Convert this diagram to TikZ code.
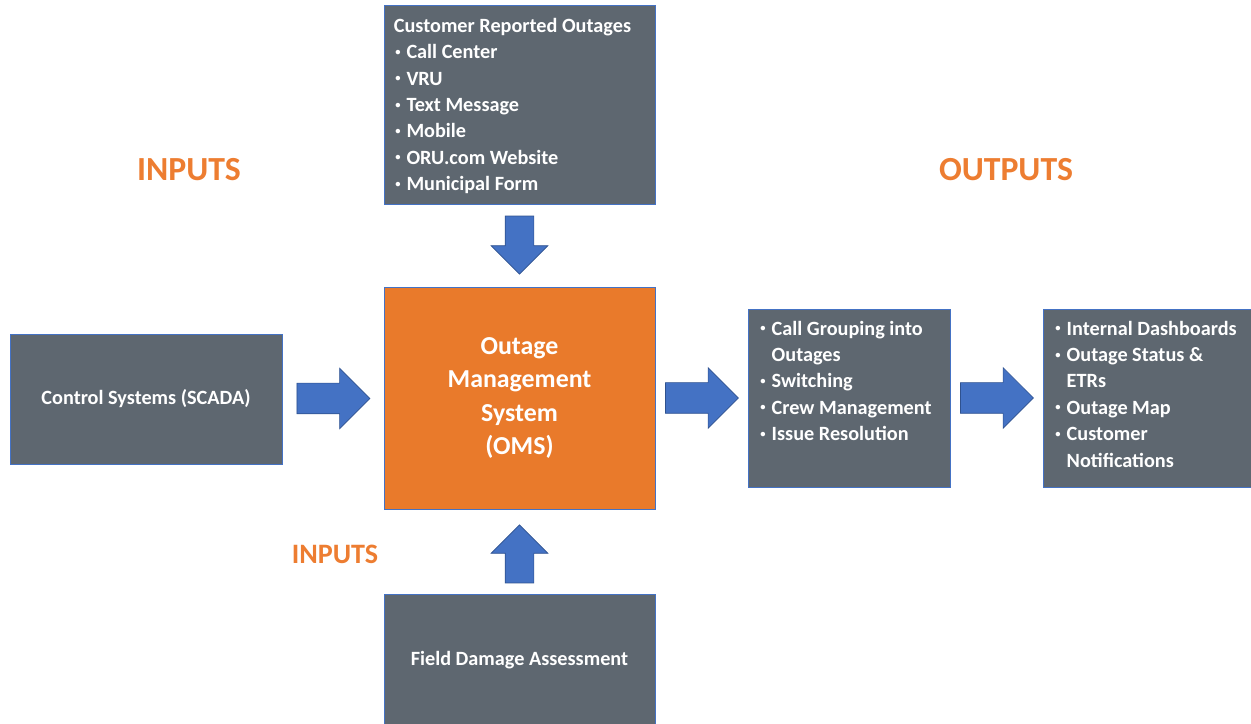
\documentclass[tikz,border=0pt]{standalone}
\usepackage{fontspec}
\setmainfont{Carlito}
\usepackage{tikz}
\usetikzlibrary{shapes.arrows, calc}
\definecolor{slate}{HTML}{5E6770}
\definecolor{edge}{HTML}{4472C4}
\definecolor{omsorange}{HTML}{E97A2B}
\definecolor{labelorange}{HTML}{ED7D31}
\definecolor{flowblue}{HTML}{4472C4}
\definecolor{flowedge}{HTML}{2F528F}
\newcommand\bul{\makebox[9pt][l]{\hspace{1pt}\raisebox{0.35ex}{\fontsize{7.5}{7.5}\selectfont\textbullet}}}
\newcommand\wrapind{\hspace*{9pt}}

\begin{document}
\begin{tikzpicture}[
  graybox/.style={draw=edge, line width=0.6pt, fill=slate, inner sep=0pt},
  boxtext/.style={text=white, font=\fontsize{14.4}{18.8}\selectfont\bfseries, inner sep=0pt, align=left},
  heading/.style={text=labelorange, font=\fontsize{24}{28}\selectfont\bfseries},
  flow/.style={single arrow, draw=flowedge, line width=0.5pt, fill=flowblue, inner sep=0pt,
    text height=0.375cm, text depth=0.375cm, single arrow head extend=0.375cm,
    minimum height=1.825cm},
  flowv/.style={flow, text height=0.35cm, text depth=0.35cm, minimum height=1.45cm,
    single arrow head extend=0.35cm}]
  \useasboundingbox (0,0) rectangle (31.275,18.075);
  % section titles
  \node[heading] (intop) at (4.725,13.825) {INPUTS};
  \node[heading] (outtop) at (25.15,13.825) {OUTPUTS};
  \node[heading, font=\fontsize{20}{24}\selectfont\bfseries] (inlow) at (8.375,4.225) {INPUTS};
  % OMS in the middle
  \node[draw=edge, line width=0.6pt, fill=omsorange, minimum width=6.775cm, minimum height=5.55cm,
    text=white, font=\fontsize{18.4}{23.7}\selectfont\bfseries, align=center] (oms) at (12.9875,8.125)
    {Outage\\Management\\System\\(OMS)};
  % input sources
  \node[graybox, minimum width=6.775cm, minimum height=4.975cm] (customer) at (12.9875,15.4625) {};
  \node[boxtext, anchor=north west] (customertxt) at ($(customer.north west)+(0.25,-0.33)$)
    {Customer Reported Outages\\
     \bul Call Center\\
     \bul VRU\\
     \bul Text Message\\
     \bul Mobile\\
     \bul ORU.com Website\\
     \bul Municipal Form};
  \node[graybox, minimum width=6.8cm, minimum height=3.25cm, text=white,
    font=\fontsize{14.4}{18.8}\selectfont\bfseries] (scada) at (3.65,8.1) {Control Systems (SCADA)};
  \node[graybox, minimum width=6.775cm, minimum height=3.325cm, text=white,
    font=\fontsize{14.4}{18.8}\selectfont\bfseries] (field) at (12.9875,1.5625) {Field Damage Assessment};
  % processing and outputs
  \node[graybox, minimum width=5.05cm, minimum height=4.45cm] (process) at (21.225,8.125) {};
  \node[boxtext, anchor=north west] (processtxt) at ($(process.north west)+(0.28,-0.3)$)
    {\bul Call Grouping into\\
     \wrapind Outages\\
     \bul Switching\\
     \bul Crew Management\\
     \bul Issue Resolution};
  \node[graybox, minimum width=5.325cm, minimum height=4.45cm] (outputs) at (28.7375,8.125) {};
  \node[boxtext, anchor=north west] (outputstxt) at ($(outputs.north west)+(0.28,-0.3)$)
    {\bul Internal Dashboards\\
     \bul Outage Status \&\\
     \wrapind ETRs\\
     \bul Outage Map\\
     \bul Customer\\
     \wrapind Notifications};
  % block arrows (node centre sits on the shaft, so pull back a little)
  \node[flowv, rotate=-90] (a1) at ($(customer.south)!0.5!(oms.north)+(0,0.19)$) {};
  \node[flow] (a2) at ($(scada.east)!0.5!(oms.west)+(-0.18,0)$) {};
  \node[flowv, rotate=90] (a3) at ($(field.north)!0.5!(oms.south)+(0,-0.24)$) {};
  \node[flow] (a4) at ($(oms.east)!0.5!(process.west)+(-0.18,0)$) {};
  \node[flow] (a5) at ($(process.east)!0.5!(outputs.west)+(-0.18,0)$) {};
\end{tikzpicture}
\end{document}
